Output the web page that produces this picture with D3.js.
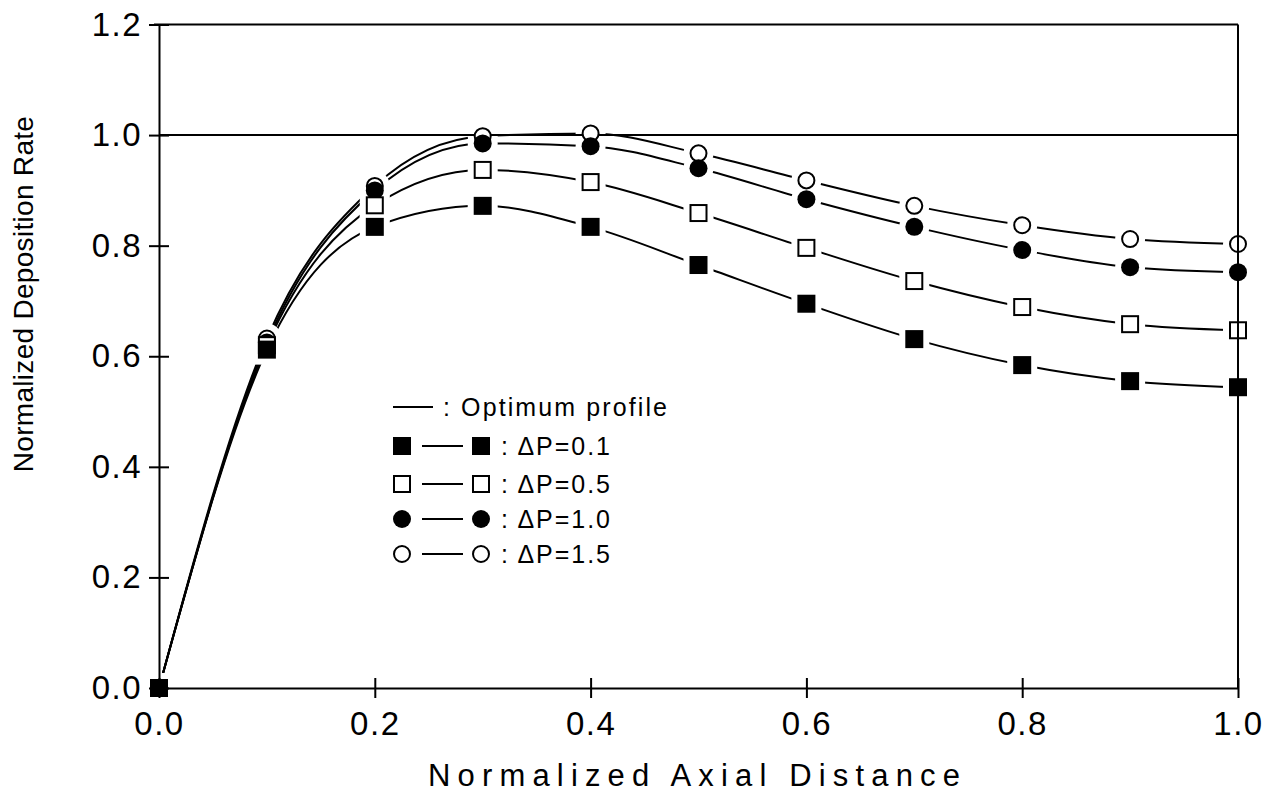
<!DOCTYPE html>
<html>
<head>
<meta charset="utf-8">
<script src="https://cdn.jsdelivr.net/npm/d3@7"></script>
<style>
  body { margin: 0; background: #fff; }
  svg { display: block; }
  text { font-family: "Liberation Sans", Arial, sans-serif; fill: #000; }
</style>
</head>
<body>
<script>
// data
var xVals = [0.0, 0.1, 0.2, 0.3, 0.4, 0.5, 0.6, 0.7, 0.8, 0.9, 1.0];
var dp01 = [0, 0.612, 0.834, 0.872, 0.834, 0.765, 0.695, 0.631, 0.584, 0.555, 0.544];
var dp05 = [0, 0.620, 0.873, 0.937, 0.915, 0.859, 0.796, 0.736, 0.689, 0.658, 0.647];
var dp10 = [0, 0.625, 0.900, 0.985, 0.980, 0.940, 0.884, 0.834, 0.792, 0.761, 0.752];
var dp15 = [0, 0.632, 0.908, 0.998, 1.003, 0.967, 0.918, 0.872, 0.837, 0.812, 0.803];
var optimumX = [0, 1];
var optimumY = [1, 1];
var seriesNames = ["\u0394P=0.1", "\u0394P=0.5", "\u0394P=1.0", "\u0394P=1.5"];
var xTicks = [0, 0.2, 0.4, 0.6, 0.8, 1.0];
var yTicks = [0, 0.2, 0.4, 0.6, 0.8, 1.0, 1.2];

var width = 1267, height = 801;

var series = [
    { name: seriesNames[0], values: dp01, shape: "square", filled: true },
    { name: seriesNames[1], values: dp05, shape: "square", filled: false },
    { name: seriesNames[2], values: dp10, shape: "circle", filled: true },
    { name: seriesNames[3], values: dp15, shape: "circle", filled: false }
];

var x = d3.scaleLinear().domain([0, 1]).range([159, 1238]);
var y = d3.scaleLinear().domain([0, 1.2]).range([688, 24.5]);

var svg = d3.select("body").append("svg")
    .attr("width", width)
    .attr("height", height);

var line = d3.line()
    .x(function (d) { return x(d[0]); })
    .y(function (d) { return y(d[1]); })
    .curve(d3.curveMonotoneX);

function pts(vals) {
    return xVals.map(function (xv, i) { return [xv, vals[i]]; });
}

//series curves
svg.selectAll(".curve")
    .data(series)
    .enter()
    .append("path")
    .attr("class", "curve")
    .attr("d", function (d) { return line(pts(d.values)); })
    .attr("fill", "none")
    .attr("stroke", "#000")
    .attr("stroke-width", 2);

//markers; halo=true draws a white patch that opens a gap in the lines
var msize = 18;
function drawMarker(g, shape, filled, cx, cy, size, halo) {
    var s = size + (halo ? 12 : 0);
    var m;
    if (shape == "square") {
        m = g.append("rect")
            .attr("x", cx - s / 2).attr("y", cy - s / 2)
            .attr("width", s).attr("height", s);
    } else {
        m = g.append("circle")
            .attr("cx", cx).attr("cy", cy).attr("r", s / 2);
    }
    if (halo) {
        m.attr("fill", "#fff").attr("stroke", "none");
    } else if (filled) {
        m.attr("fill", "#000").attr("stroke", "none");
    } else {
        m.attr("fill", "#fff").attr("stroke", "#000").attr("stroke-width", 2);
        if (shape == "square") {
            m.attr("x", cx - size / 2 + 1).attr("y", cy - size / 2 + 1)
                .attr("width", size - 2).attr("height", size - 2);
        } else {
            m.attr("r", size / 2 - 1);
        }
    }
}

var haloG = svg.append("g");
series.forEach(function (s, si) {
    s.values.forEach(function (v, i) {
        if (i == 0 && si > 0) return;
        drawMarker(haloG, s.shape, s.filled, x(xVals[i]), y(v), msize, true);
    });
});

//optimum profile
svg.append("path")
    .attr("d", d3.line()
        .x(function (d) { return x(d[0]); })
        .y(function (d) { return y(d[1]); })(optimumX.map(function (xv, i) { return [xv, optimumY[i]]; })))
    .attr("stroke", "#000")
    .attr("stroke-width", 2);

//markers, drawn last series first
var markG = svg.append("g");
series.slice().reverse().forEach(function (s) {
    var si = series.indexOf(s);
    s.values.forEach(function (v, i) {
        if (i == 0 && si > 0) return;
        drawMarker(markG, s.shape, s.filled, x(xVals[i]), y(v), msize, false);
    });
});

//axes
var fmt = d3.format(".1f");
var xAxis = svg.append("g")
    .attr("transform", "translate(0," + y(0) + ")")
    .call(d3.axisBottom(x).tickValues(xTicks).tickFormat(fmt)
        .tickSizeInner(10).tickSizeOuter(0).tickPadding(14));
var yAxis = svg.append("g")
    .attr("transform", "translate(" + x(0) + ",0)")
    .call(d3.axisLeft(y).tickValues(yTicks).tickFormat(fmt)
        .tickSizeInner(10).tickSizeOuter(0).tickPadding(7));

[xAxis, yAxis].forEach(function (a) {
    a.select(".domain").attr("stroke-width", 2);
    a.selectAll(".tick line").attr("stroke-width", 2);
    a.selectAll(".tick text")
        .style("font-family", "'Liberation Sans', Arial, sans-serif")
        .style("font-size", "33px")
        .style("letter-spacing", "1.5px");
});
xAxis.selectAll(".tick line").attr("y1", -10);
yAxis.selectAll(".tick line").attr("x1", 10);

//top and right frame
svg.append("line")
    .attr("x1", x(0) - 5).attr("x2", x(1)).attr("y1", y(1.2)).attr("y2", y(1.2))
    .attr("stroke", "#000").attr("stroke-width", 2);
svg.append("line")
    .attr("x1", x(1)).attr("x2", x(1)).attr("y1", y(1.2)).attr("y2", y(0))
    .attr("stroke", "#000").attr("stroke-width", 2);

//axis titles
svg.append("text")
    .attr("x", 694).attr("y", 786)
    .attr("text-anchor", "middle")
    .attr("textLength", 532).attr("lengthAdjust", "spacing")
    .style("font-size", "31px")
    .text("Normalized Axial Distance");
svg.append("text")
    .attr("transform", "translate(33,294) rotate(-90)")
    .attr("text-anchor", "middle")
    .style("font-size", "28px")
    .style("letter-spacing", "0.3px")
    .text("Normalized Deposition Rate");

//legend
var legend = svg.append("g");
var rowY = [407, 446, 484, 519, 554];
legend.append("line")
    .attr("x1", 393).attr("x2", 433).attr("y1", rowY[0]).attr("y2", rowY[0])
    .attr("stroke", "#000").attr("stroke-width", 2);
legend.append("text")
    .attr("x", 443).attr("y", rowY[0] + 9)
    .attr("textLength", 224).attr("lengthAdjust", "spacing")
    .style("font-size", "25px")
    .text(": Optimum profile");
series.forEach(function (s, i) {
    var ry = rowY[i + 1];
    drawMarker(legend, s.shape, s.filled, 402, ry, msize, false);
    legend.append("line")
        .attr("x1", 422).attr("x2", 463).attr("y1", ry).attr("y2", ry)
        .attr("stroke", "#000").attr("stroke-width", 2);
    drawMarker(legend, s.shape, s.filled, 481, ry, msize, false);
    legend.append("text")
        .attr("x", 501).attr("y", ry + 9)
        .attr("textLength", 109).attr("lengthAdjust", "spacing")
        .style("font-size", "25px")
        .text(": " + s.name);
});
</script>
</body>
</html>
